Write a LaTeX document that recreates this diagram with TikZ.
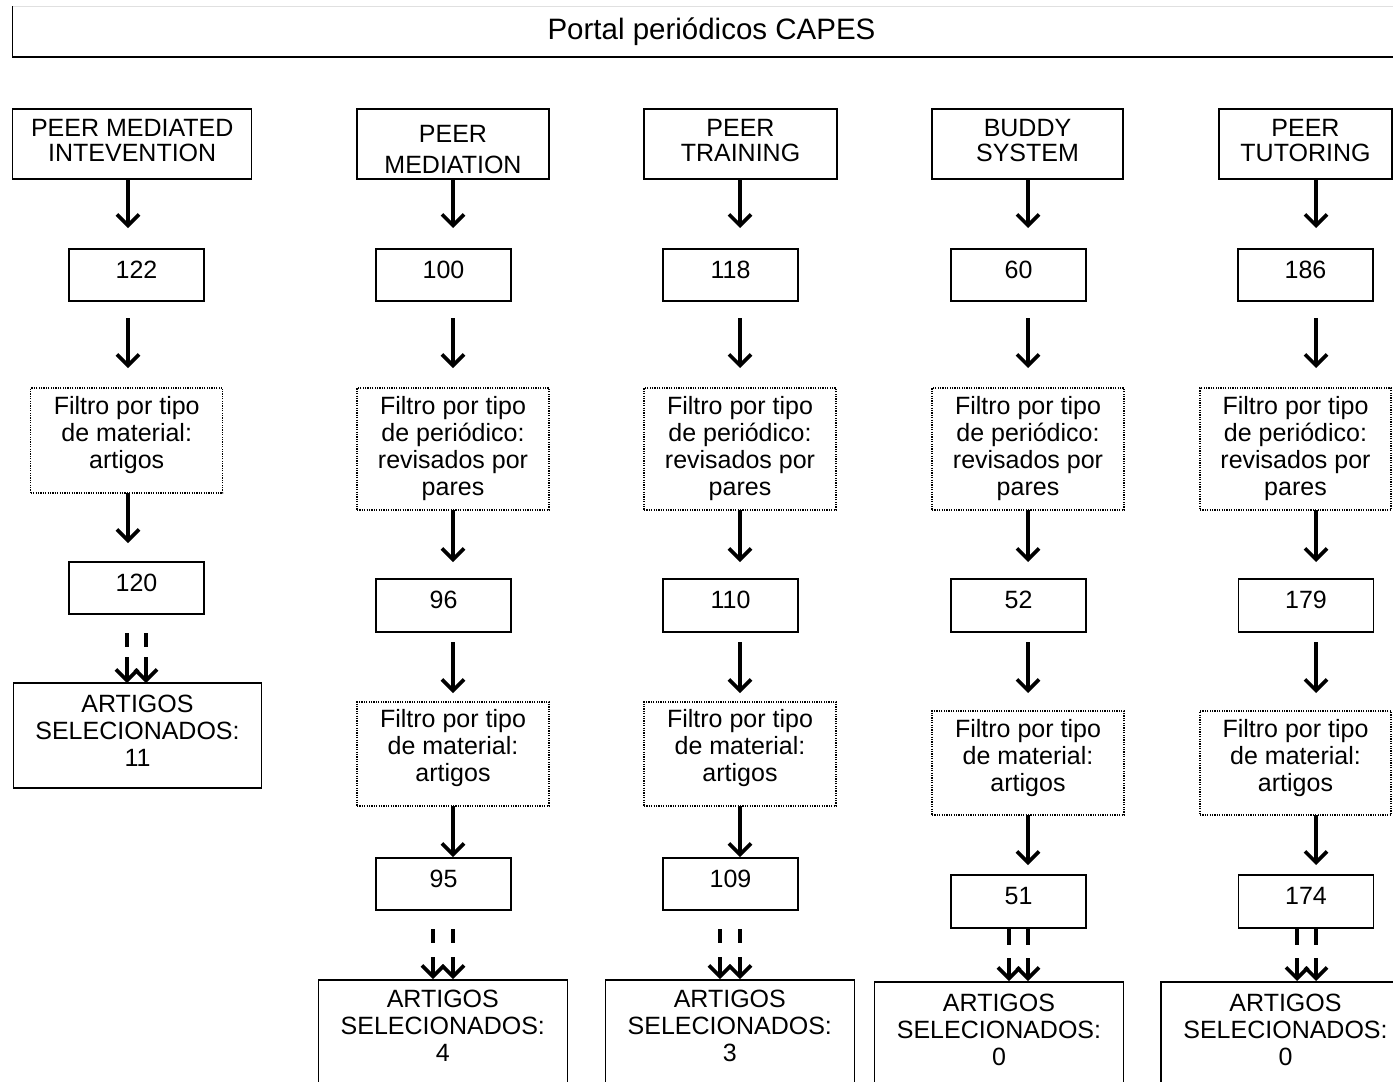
\documentclass[tikz,border=0pt]{standalone}
\usepackage{fontspec}
\setmainfont{Liberation Sans}
\usetikzlibrary{arrows.meta}
\begin{document}
\begin{tikzpicture}[x=1pt,y=-1pt,
  every node/.style={inner sep=0pt, outer sep=0pt},
  txt/.style={font=\fontsize{25}{27}\selectfont, align=center},
  ttl/.style={font=\fontsize{25}{25}\selectfont, align=center},
  solidbox/.style={draw=black, line width=1.4pt},
  dotbox/.style={draw=black, line width=1.4pt, dash pattern=on 1.2pt off 1.2pt},
  numbox/.style={solidbox, minimum width=135pt, minimum height=52pt, txt, text depth=11pt},
  titlebox/.style={solidbox, minimum height=70pt},
  filtbox/.style={dotbox, minimum width=192pt},
  selbox/.style={solidbox, minimum width=249pt, minimum height=105pt},
  arr/.style={line width=3.7pt, -{Straight Barb[length=11pt,width=22pt]}},
  ddA/.style={arr, dash pattern=on 14pt off 10pt on 90pt},
  ddB/.style={arr, dash pattern=on 14pt off 14pt on 90pt},
  ddC/.style={arr, dash pattern=on 17pt off 13pt on 90pt}
 ]
\clip (0,0) rectangle (1393,1082);
\fill[white] (0,0) rectangle (1393,1082);

% header
\node[font=\fontsize{29.5}{32}\selectfont] (hdr) at (711.5,31.5) {Portal periódicos CAPES};
\draw[black!12, line width=1.5pt] (12.7,6.5) -- (1393,6.5);
\draw[line width=1.5pt] (12.7,6) -- (12.7,57);
\draw[line width=2.5pt] (12,57) -- (1393,57);

% column x coordinates
\coordinate (c1) at (128,0);
\coordinate (c2) at (453,0);
\coordinate (c3) at (740,0);
\coordinate (c4) at (1028,0);
\coordinate (c5) at (1316,0);
\coordinate (d1) at (127,0);  \coordinate (e1) at (146,0);
\coordinate (d2) at (433,0);  \coordinate (e2) at (453,0);
\coordinate (d3) at (720,0);  \coordinate (e3) at (740,0);
\coordinate (d4) at (1009,0); \coordinate (e4) at (1028,0);
\coordinate (d5) at (1297,0); \coordinate (e5) at (1316,0);

% ---------- column 1
\node[titlebox, minimum width=239pt] (t1) at (132.2,144) {};
\node[ttl] (t1l) at ([yshift=3.5pt]t1.center) {PEER MEDIATED\\INTEVENTION};
\node[numbox] (n1a) at (136.5,275) {122};
\node[dotbox, minimum width=192pt, minimum height=105pt] (f1a) at (126.7,440.5) {};
\node[txt] (f1al) at ([yshift=5.5pt]f1a.center) {Filtro por tipo\\de material:\\artigos};
\node[numbox] (n1b) at (136.5,588) {120};
\node[selbox, minimum width=248.4pt] (a1) at (137.5,735.5) {};
\node[txt] (a1l) at ([yshift=4.5pt]a1.center) {ARTIGOS\\SELECIONADOS:\\11};

% ---------- column 2
\node[titlebox, minimum width=192pt] (t2) at (453,144) {};
\node[ttl] (t2l) at ([yshift=-5.5pt]t2.center) {PEER\\[6pt]MEDIATION};
\node[numbox] (n2a) at (443.5,275) {100};
\node[filtbox, minimum height=122pt] (f2a) at (453,449) {};
\node[txt] (f2al) at (f2a.center) {Filtro por tipo\\de periódico:\\revisados por\\pares};
\node[numbox, minimum height=53pt] (n2b) at (443.5,605.5) {96};
\node[filtbox, minimum height=104pt] (f2b) at (453,754) {};
\node[txt] (f2bl) at ([yshift=5.5pt]f2b.center) {Filtro por tipo\\de material:\\artigos};
\node[numbox] (n2c) at (443.5,884) {95};
\node[selbox] (a2) at (442.8,1032.5) {};
\node[txt] (a2l) at ([yshift=6.5pt]a2.center) {ARTIGOS\\SELECIONADOS:\\4};

% ---------- column 3
\node[titlebox, minimum width=193pt] (t3) at (740.5,144) {};
\node[ttl] (t3l) at ([yshift=3.5pt]t3.center) {PEER\\TRAINING};
\node[numbox] (n3a) at (730.5,275) {118};
\node[filtbox, minimum height=122pt] (f3a) at (740,449) {};
\node[txt] (f3al) at (f3a.center) {Filtro por tipo\\de periódico:\\revisados por\\pares};
\node[numbox, minimum height=53pt] (n3b) at (730.5,605.5) {110};
\node[filtbox, minimum height=104pt] (f3b) at (740,754) {};
\node[txt] (f3bl) at ([yshift=5.5pt]f3b.center) {Filtro por tipo\\de material:\\artigos};
\node[numbox] (n3c) at (730.5,884) {109};
\node[selbox] (a3) at (729.8,1032.5) {};
\node[txt] (a3l) at ([yshift=6.5pt]a3.center) {ARTIGOS\\SELECIONADOS:\\3};

% ---------- column 4
\node[titlebox, minimum width=191pt] (t4) at (1027.5,144) {};
\node[ttl] (t4l) at ([yshift=3.5pt]t4.center) {BUDDY\\SYSTEM};
\node[numbox] (n4a) at (1018.5,275) {60};
\node[filtbox, minimum height=122pt] (f4a) at (1028,449) {};
\node[txt] (f4al) at (f4a.center) {Filtro por tipo\\de periódico:\\revisados por\\pares};
\node[numbox, minimum height=53pt] (n4b) at (1018.5,605.5) {52};
\node[filtbox, minimum height=104pt] (f4b) at (1028,763) {};
\node[txt] (f4bl) at ([yshift=4.5pt]f4b.center) {Filtro por tipo\\de material:\\artigos};
\node[numbox, minimum height=53pt] (n4c) at (1018.5,901.5) {51};
\node[selbox] (a4) at (999,1034.5) {};
\node[txt] (a4l) at ([yshift=5pt]a4.center) {ARTIGOS\\SELECIONADOS:\\0};

% ---------- column 5
\node[titlebox, minimum width=173pt] (t5) at (1305.5,144) {};
\node[ttl] (t5l) at ([yshift=3.5pt]t5.center) {PEER\\TUTORING};
\node[numbox] (n5a) at (1305.5,275) {186};
\node[filtbox, minimum width=191pt, minimum height=122pt] (f5a) at (1295.5,449) {};
\node[txt] (f5al) at (f5a.center) {Filtro por tipo\\de periódico:\\revisados por\\pares};
\node[numbox, minimum height=53pt] (n5b) at (1306,605.5) {179};
\node[filtbox, minimum width=191pt, minimum height=104pt] (f5b) at (1295.5,763) {};
\node[txt] (f5bl) at ([yshift=4.5pt]f5b.center) {Filtro por tipo\\de material:\\artigos};
\node[numbox, minimum height=53pt] (n5c) at (1306,901.5) {174};
\node[selbox] (a5) at (1285.5,1034.5) {};
\node[txt] (a5l) at ([yshift=5pt]a5.center) {ARTIGOS\\SELECIONADOS:\\0};

% ---------- connectors column 1
\draw[arr, shorten >=21pt] (t1.south -| c1) -- (n1a.north -| c1);
\draw[arr, shorten <=17pt, shorten >=20pt] (n1a.south -| c1) -- (f1a.north -| c1);
\draw[arr, shorten >=19pt] (f1a.south -| c1) -- (n1b.north -| c1);
\draw[ddA, shorten <=19pt] (n1b.south -| d1) -- (a1.north -| d1);
\draw[ddA, shorten <=19pt] (n1b.south -| e1) -- (a1.north -| e1);

% ---------- connectors columns 2 and 3
\foreach \i in {2,3}{
  \draw[arr, shorten >=21pt] (t\i.south -| c\i) -- (n\i a.north -| c\i);
  \draw[arr, shorten <=17pt, shorten >=20pt] (n\i a.south -| c\i) -- (f\i a.north -| c\i);
  \draw[arr, shorten >=17pt] (f\i a.south -| c\i) -- (n\i b.north -| c\i);
  \draw[arr, shorten <=10pt, shorten >=9pt] (n\i b.south -| c\i) -- (f\i b.north -| c\i);
  \draw[arr, shorten >=1pt] (f\i b.south -| c\i) -- (n\i c.north -| c\i);
  \draw[ddB, shorten <=19pt, shorten >=1pt] (n\i c.south -| d\i) -- (a\i.north -| d\i);
  \draw[ddB, shorten <=19pt, shorten >=1pt] (n\i c.south -| e\i) -- (a\i.north -| e\i);
}

% ---------- connectors columns 4 and 5
\foreach \i in {4,5}{
  \draw[arr, shorten >=21pt] (t\i.south -| c\i) -- (n\i a.north -| c\i);
  \draw[arr, shorten <=17pt, shorten >=20pt] (n\i a.south -| c\i) -- (f\i a.north -| c\i);
  \draw[arr, shorten >=17pt] (f\i a.south -| c\i) -- (n\i b.north -| c\i);
  \draw[arr, shorten <=10pt, shorten >=18pt] (n\i b.south -| c\i) -- (f\i b.north -| c\i);
  \draw[arr, shorten >=10pt] (f\i b.south -| c\i) -- (n\i c.north -| c\i);
  \draw[ddC, shorten >=1pt] (n\i c.south -| d\i) -- (a\i.north -| d\i);
  \draw[ddC, shorten >=1pt] (n\i c.south -| e\i) -- (a\i.north -| e\i);
}
\end{tikzpicture}
\end{document}
